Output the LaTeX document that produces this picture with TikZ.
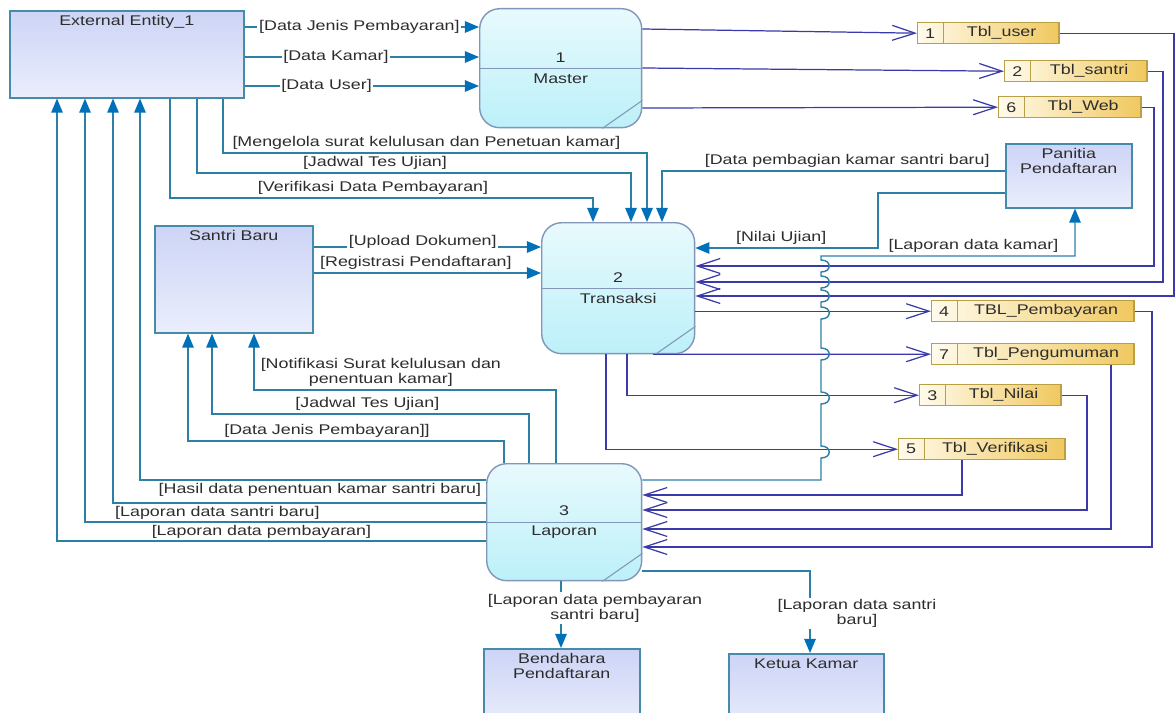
\documentclass[tikz,border=0pt]{standalone}
\usepackage{fontspec}
\setmainfont{Liberation Sans}[FakeStretch=1.27]
\usetikzlibrary{arrows.meta,shapes.multipart}

\definecolor{entline}{RGB}{70,140,170}
\definecolor{enttop}{RGB}{205,212,246}
\definecolor{entbot}{RGB}{234,238,252}
\definecolor{proline}{RGB}{130,150,185}
\definecolor{protop}{RGB}{232,250,253}
\definecolor{probot}{RGB}{188,240,249}
\definecolor{stoline}{RGB}{185,160,70}
\definecolor{stoleft}{RGB}{255,251,236}
\definecolor{storight}{RGB}{240,200,95}
\definecolor{flowteal}{RGB}{45,128,165}
\definecolor{tipblue}{RGB}{0,112,185}
\definecolor{flowblue}{RGB}{58,58,168}
\definecolor{txtgray}{RGB}{45,45,45}

\begin{document}
\begin{tikzpicture}[x=0.02cm, y=-0.02cm,
  font=\fontsize{8}{8.5}\selectfont, text=txtgray,
  entity/.style={draw=entline, line width=0.9pt, top color=enttop, bottom color=entbot, anchor=north west},
  etitle/.style={anchor=north, align=center, inner sep=3pt},
  process/.style={draw=proline, line width=0.8pt, rounded corners=0.4cm, top color=protop, bottom color=probot, anchor=north west, align=center},
  store/.style={rectangle split, rectangle split horizontal, rectangle split parts=2, draw=stoline, line width=0.8pt, left color=stoleft, right color=storight, inner xsep=0pt, inner ysep=0pt, minimum height=0.42cm, anchor=north west},
  eflow/.style={draw=flowteal, line width=0.8pt, -{Triangle[length=8pt,width=6.5pt,color=tipblue]}},
  sflow/.style={draw=flowblue, line width=0.7pt, -{Straight Barb[length=13pt,width=8.5pt]}},
  lbl/.style={inner sep=1.5pt},
  lblw/.style={inner sep=1pt, fill=white}]

  \useasboundingbox (0,0) rectangle (1176,713);
  \fill[white] (0,0) rectangle (1176,713);
  \clip (0,0) rectangle (1176,713);

  % external entities
  \node[entity, minimum width=4.68cm, minimum height=1.74cm, label={[etitle]north:External Entity\_1}] (ee) at (9,10) {};
  \node[entity, minimum width=3.16cm, minimum height=2.14cm, label={[etitle]north:Santri Baru}] (santri) at (154,225) {};
  \node[entity, minimum width=2.52cm, minimum height=1.28cm, label={[etitle]north:Panitia\\Pendaftaran}] (panitia) at (1005,143) {};
  \node[entity, minimum width=3.12cm, minimum height=1.6cm, label={[etitle]north:Bendahara\\Pendaftaran}] (bendahara) at (483,648) {};
  \node[entity, minimum width=3.10cm, minimum height=1.6cm, label={[etitle]north:Ketua Kamar}] (ketua) at (728,653) {};

  % processes
  \node[process, minimum width=3.24cm, minimum height=2.38cm] (master) at (479,8) {1\\[3pt]Master};
  \node[process, minimum width=3.06cm, minimum height=2.62cm] (transaksi) at (541,222) {2\\[3pt]Transaksi};
  \node[process, minimum width=3.10cm, minimum height=2.34cm] (laporan) at (486,463) {3\\[3pt]Laporan};
  \draw[proline, line width=0.6pt] (master.west) -- (master.east);
  \draw[proline, line width=0.6pt] ([xshift=-0.8cm]master.south east) -- ([yshift=0.56cm]master.south east);
  \draw[proline, line width=0.6pt] (transaksi.west) -- (transaksi.east);
  \draw[proline, line width=0.6pt] ([xshift=-0.8cm]transaksi.south east) -- ([yshift=0.56cm]transaksi.south east);
  \draw[proline, line width=0.6pt] (laporan.west) -- (laporan.east);
  \draw[proline, line width=0.6pt] ([xshift=-0.8cm]laporan.south east) -- ([yshift=0.56cm]laporan.south east);

  % data stores
  \node[store] (tuser) at (917,22) {\makebox[0.5cm]{1}\nodepart{two}\makebox[2.30cm]{Tbl\_user}};
  \node[store] (tsantri) at (1004,60) {\makebox[0.5cm]{2}\nodepart{two}\makebox[2.32cm]{Tbl\_santri}};
  \node[store] (tweb) at (998,96) {\makebox[0.5cm]{6}\nodepart{two}\makebox[2.32cm]{Tbl\_Web}};
  \node[store] (tbayar) at (931,300) {\makebox[0.5cm]{4}\nodepart{two}\makebox[3.52cm]{TBL\_Pembayaran}};
  \node[store] (tumum) at (931,343) {\makebox[0.5cm]{7}\nodepart{two}\makebox[3.52cm]{Tbl\_Pengumuman}};
  \node[store] (tnilai) at (919,384) {\makebox[0.5cm]{3}\nodepart{two}\makebox[2.30cm]{Tbl\_Nilai}};
  \node[store] (tverif) at (898,438) {\makebox[0.5cm]{5}\nodepart{two}\makebox[2.80cm]{Tbl\_Verifikasi}};

  % external entity -> master
  \draw[eflow] (ee.east |- 0,27) -- node[lblw, pos=0.49] {[Data Jenis Pembayaran]} (master.west |- 0,27);
  \draw[eflow] (ee.east |- 0,57) -- node[lblw, pos=0.39] {[Data Kamar]} (master.west |- 0,57);
  \draw[eflow] (ee.east |- 0,86) -- node[lblw, pos=0.35] {[Data User]} (master.west |- 0,86);

  % master -> stores
  \draw[sflow] (master.east |- 0,29) -- (tuser.west);
  \draw[sflow] (master.east |- 0,68) -- (tsantri.west);
  \draw[sflow] (master.east |- 0,108) -- (tweb.west);

  % external entity -> transaksi
  \draw[eflow] (ee.south -| 223,0) -- (223,153) -- node[lbl, above, pos=0.48] {[Mengelola surat kelulusan dan Penetuan kamar]} (647,153) -- (transaksi.north -| 647,0);
  \draw[eflow] (ee.south -| 197,0) -- (197,173) -- node[lbl, above, pos=0.41] {[Jadwal Tes Ujian]} (631,173) -- (transaksi.north -| 631,0);
  \draw[eflow] (ee.south -| 170,0) -- (170,198) -- node[lbl, above, pos=0.48] {[Verifikasi Data Pembayaran]} (593,198) -- (transaksi.north -| 593,0);

  % panitia -> transaksi
  \draw[eflow] (panitia.west |- 0,171) -- node[lbl, above, pos=0.46] {[Data pembagian kamar santri baru]} (662,171) -- (transaksi.north -| 662,0);
  \draw[eflow] (panitia.west |- 0,193) -- (878,193) -- (878,248) -- node[lbl, above, pos=0.53] {[Nilai Ujian]} (transaksi.east |- 0,248);

  % santri baru -> transaksi
  \draw[eflow] (santri.east |- 0,247) -- node[lblw, pos=0.48, yshift=3pt] {[Upload Dokumen]} (transaksi.west |- 0,247);
  \draw[eflow] (santri.east |- 0,273) -- node[lbl, above, pos=0.45] {[Registrasi Pendaftaran]} (transaksi.west |- 0,273);

  % stores -> transaksi
  \draw[sflow] (tweb.east) -| (1154,266) -- (transaksi.east |- 0,266);
  \draw[sflow] (tsantri.east) -| (1163,282) -- (transaksi.east |- 0,282);
  \draw[sflow] (tuser.east) -| (1174,296) -- (transaksi.east |- 0,296);

  % transaksi -> stores
  \draw[sflow] (transaksi.east |- tbayar.west) -- (tbayar.west);
  \draw[sflow] (transaksi.south -| 653,0) -- (tumum.west);
  \draw[sflow] (transaksi.south -| 627,0) |- (tnilai.west);
  \draw[sflow] (transaksi.south -| 606,0) |- (tverif.west);

  % stores -> laporan
  \draw[sflow] (tverif.south -| 962,0) |- (laporan.east |- 0,495);
  \draw[sflow] (tnilai.east) -| (1087,510) -- (laporan.east |- 0,510);
  \draw[sflow] (tumum.south -| 1111,0) |- (laporan.east |- 0,529);
  \draw[sflow] (tbayar.east) -| (1152,547) -- (laporan.east |- 0,547);

  % laporan -> panitia, hopping over the crossings
  \draw[eflow] (laporan.east |- 0,480) -- (821,480)
    \foreach \h in {452,398,354,313,296,282,266} { -- (821,\h+6) .. controls (832,\h+6) and (832,\h-6) .. (821,\h-6) }
    -- (821,256) -- node[lbl, above, pos=0.6] {[Laporan data kamar]} (1075,256) -- (panitia.south -| 1075,0);

  % laporan -> santri baru
  \draw[eflow] (laporan.north -| 556,0) -- (556,390) -- node[lbl, above, align=center, pos=0.58] {[Notifikasi Surat kelulusan dan\\penentuan kamar]} (254,390) -- (santri.south -| 254,0);
  \draw[eflow] (laporan.north -| 529,0) -- (529,414) -- node[lbl, above, pos=0.51] {[Jadwal Tes Ujian]} (212,414) -- (santri.south -| 212,0);
  \draw[eflow] (laporan.north -| 504,0) -- (504,441) -- node[lbl, above, pos=0.56] {[Data Jenis Pembayaran]]} (188,441) -- (santri.south -| 188,0);

  % laporan -> external entity
  \draw[eflow] (laporan.west |- 0,480) -- node[lbl, below, pos=0.48] {[Hasil data penentuan kamar santri baru]} (140,480) -- (ee.south -| 140,0);
  \draw[eflow] (laporan.west |- 0,503) -- node[lbl, below, pos=0.72] {[Laporan data santri baru]} (113,503) -- (ee.south -| 113,0);
  \draw[eflow] (laporan.west |- 0,522) -- node[lbl, below, pos=0.56] {[Laporan data pembayaran]} (85,522) -- (ee.south -| 85,0);
  \draw[eflow] (laporan.west |- 0,541) -- (57,541) -- (ee.south -| 57,0);

  % laporan -> bendahara, ketua kamar
  \draw[eflow] (laporan.south -| 561,0) -- node[lblw, align=center, pos=0.4, xshift=0.68cm] {[Laporan data pembayaran\\santri baru]} (bendahara.north -| 561,0);
  \draw[eflow] (laporan.east |- 0,571) -- (810,571) -- node[lblw, align=center, pos=0.52, xshift=0.94cm] {[Laporan data santri\\baru]} (ketua.north -| 810,0);
\end{tikzpicture}
\end{document}
